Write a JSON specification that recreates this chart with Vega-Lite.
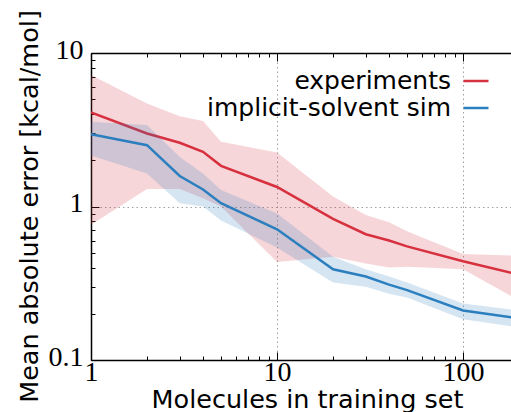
{
  "$schema": "https://vega.github.io/schema/vega-lite/v6.json",
  "width": 420,
  "height": 307,
  "autosize": {"type": "none"},
  "padding": {"left": 91, "top": 53, "right": 0, "bottom": 52},
  "background": "white",
  "config": {
    "view": {"stroke": null},
    "axis": {
      "labelFont": "Liberation Serif",
      "labelFontSize": 28,
      "labelColor": "black",
      "labelOverlap": false,
      "labelBound": false,
      "labelFlush": false,
      "titleFont": "DejaVu Sans",
      "titleFontSize": 25.5,
      "titleFontWeight": "normal",
      "titleColor": "black",
      "domainColor": "black",
      "domainWidth": 1.5,
      "tickColor": "black",
      "tickWidth": 1,
      "gridColor": "#a0a0a0",
      "gridDash": [1.5, 3],
      "gridWidth": 1
    }
  },
  "data": {
    "values": [
      {"n": 1, "s": "experiments", "m": 4.1, "lo": 0.76, "hi": 7.2},
      {"n": 2, "s": "experiments", "m": 2.99, "lo": 1.3, "hi": 4.69},
      {"n": 3, "s": "experiments", "m": 2.6, "lo": 1.3, "hi": 3.87},
      {"n": 4, "s": "experiments", "m": 2.27, "lo": 1.13, "hi": 3.6},
      {"n": 5, "s": "experiments", "m": 1.84, "lo": 1.0, "hi": 2.64},
      {"n": 10, "s": "experiments", "m": 1.34, "lo": 0.435, "hi": 2.25},
      {"n": 20, "s": "experiments", "m": 0.83, "lo": 0.47, "hi": 1.16},
      {"n": 30, "s": "experiments", "m": 0.66, "lo": 0.425, "hi": 0.88},
      {"n": 40, "s": "experiments", "m": 0.6, "lo": 0.4, "hi": 0.79},
      {"n": 50, "s": "experiments", "m": 0.55, "lo": 0.405, "hi": 0.69},
      {"n": 100, "s": "experiments", "m": 0.44, "lo": 0.39, "hi": 0.49},
      {"n": 200, "s": "experiments", "m": 0.36, "lo": 0.244, "hi": 0.478},
      {"n": 1, "s": "implicit-solvent sim", "m": 2.96, "lo": 2.15, "hi": 3.56},
      {"n": 2, "s": "implicit-solvent sim", "m": 2.51, "lo": 1.64, "hi": 3.39},
      {"n": 3, "s": "implicit-solvent sim", "m": 1.58, "lo": 1.05, "hi": 2.1},
      {"n": 4, "s": "implicit-solvent sim", "m": 1.29, "lo": 1.0, "hi": 1.64},
      {"n": 5, "s": "implicit-solvent sim", "m": 1.05, "lo": 0.81, "hi": 1.28},
      {"n": 10, "s": "implicit-solvent sim", "m": 0.71, "lo": 0.54, "hi": 0.9},
      {"n": 20, "s": "implicit-solvent sim", "m": 0.39, "lo": 0.32, "hi": 0.47},
      {"n": 30, "s": "implicit-solvent sim", "m": 0.35, "lo": 0.3, "hi": 0.39},
      {"n": 40, "s": "implicit-solvent sim", "m": 0.31, "lo": 0.27, "hi": 0.35},
      {"n": 50, "s": "implicit-solvent sim", "m": 0.285, "lo": 0.255, "hi": 0.32},
      {"n": 100, "s": "implicit-solvent sim", "m": 0.21, "lo": 0.184, "hi": 0.233},
      {"n": 200, "s": "implicit-solvent sim", "m": 0.187, "lo": 0.163, "hi": 0.21}
    ]
  },
  "resolve": {"axis": {"x": "independent", "y": "independent"}},
  "layer": [
    {
      "transform": [{"filter": "datum.s == 'experiments'"}],
      "mark": {"type": "area", "clip": true, "fillOpacity": 0.2, "interpolate": "linear"},
      "encoding": {
        "x": {
          "field": "n", "type": "quantitative",
          "scale": {"type": "log", "domain": [1, 181], "nice": false},
          "axis": {
            "orient": "bottom",
            "values": [1, 2, 3, 4, 5, 6, 7, 8, 9, 10, 20, 30, 40, 50, 60, 70, 80, 90, 100, 200],
            "format": "~g",
            "labelExpr": "(datum.value == 1 || datum.value == 10 || datum.value == 100) ? datum.label : ''",
            "labelBaseline": "top",
            "labelPadding": 2,
            "tickSize": -4,
            "grid": true,
            "gridOpacity": {"condition": {"test": "datum.value == 10 || datum.value == 100", "value": 1}, "value": 0},
            "title": "Molecules in training set",
            "titleBaseline": "alphabetic",
            "titleX": 216,
            "titleY": 47
          }
        },
        "y": {
          "field": "lo", "type": "quantitative",
          "scale": {"type": "log", "domain": [0.1, 10], "nice": false},
          "axis": {
            "orient": "left",
            "values": [0.1, 0.2, 0.3, 0.4, 0.5, 0.6, 0.7, 0.8, 0.9, 1, 2, 3, 4, 5, 6, 7, 8, 9, 10],
            "format": "~g",
            "labelExpr": "(datum.value == 0.1 || datum.value == 1 || datum.value == 10) ? datum.label : ''",
            "labelBaseline": "middle",
            "labelOffset": -3,
            "labelPadding": 12,
            "tickSize": -4,
            "grid": true,
            "gridOpacity": {"condition": {"test": "datum.value == 1", "value": 1}, "value": 0},
            "title": "Mean absolute error [kcal/mol]",
            "titleBaseline": "alphabetic",
            "titleX": -54,
            "titleY": 153
          }
        },
        "y2": {"field": "hi"},
        "color": {
          "field": "s", "type": "nominal",
          "scale": {"domain": ["experiments", "implicit-solvent sim"], "range": ["#d7303f", "#2b7fbf"]},
          "legend": {
            "orient": "none",
            "legendX": 371,
            "legendY": 14,
            "title": null,
            "padding": 0,
            "symbolType": "stroke",
            "symbolSize": 625,
            "symbolStrokeWidth": 2.5,
            "symbolOpacity": 1,
            "labelAlign": "right",
            "labelOffset": -39,
            "labelFont": "DejaVu Sans",
            "labelFontSize": 25,
            "labelColor": "black",
            "labelLimit": 0,
            "rowPadding": -3
          }
        }
      }
    },
    {
      "transform": [{"filter": "datum.s == 'experiments'"}],
      "mark": {"type": "line", "clip": true, "strokeWidth": 2.5, "interpolate": "linear"},
      "encoding": {
        "x": {
          "field": "n", "type": "quantitative",
          "axis": {
            "orient": "top",
            "values": [1, 2, 3, 4, 5, 6, 7, 8, 9, 10, 20, 30, 40, 50, 60, 70, 80, 90, 100, 200],
            "labels": false,
            "title": null,
            "grid": false,
            "tickSize": -4
          }
        },
        "y": {
          "field": "m", "type": "quantitative",
          "axis": {
            "orient": "left",
            "values": [0.1, 1, 10],
            "labels": false,
            "title": null,
            "grid": false,
            "domain": false,
            "tickSize": -8
          }
        },
        "color": {"field": "s", "type": "nominal"}
      }
    },
    {
      "transform": [{"filter": "datum.s == 'implicit-solvent sim'"}],
      "mark": {"type": "area", "clip": true, "fillOpacity": 0.2, "interpolate": "linear"},
      "encoding": {
        "x": {
          "field": "n", "type": "quantitative",
          "axis": {
            "orient": "bottom",
            "values": [1, 10, 100],
            "labels": false,
            "title": null,
            "grid": false,
            "domain": false,
            "tickSize": -8
          }
        },
        "y": {"field": "lo", "type": "quantitative", "axis": null},
        "y2": {"field": "hi"},
        "color": {"field": "s", "type": "nominal"}
      }
    },
    {
      "transform": [{"filter": "datum.s == 'implicit-solvent sim'"}],
      "mark": {"type": "line", "clip": true, "strokeWidth": 2.5, "interpolate": "linear"},
      "encoding": {
        "x": {
          "field": "n", "type": "quantitative",
          "axis": {
            "orient": "top",
            "values": [1, 10, 100],
            "labels": false,
            "title": null,
            "grid": false,
            "domain": false,
            "tickSize": -8
          }
        },
        "y": {"field": "m", "type": "quantitative", "axis": null},
        "color": {"field": "s", "type": "nominal"}
      }
    }
  ]
}
